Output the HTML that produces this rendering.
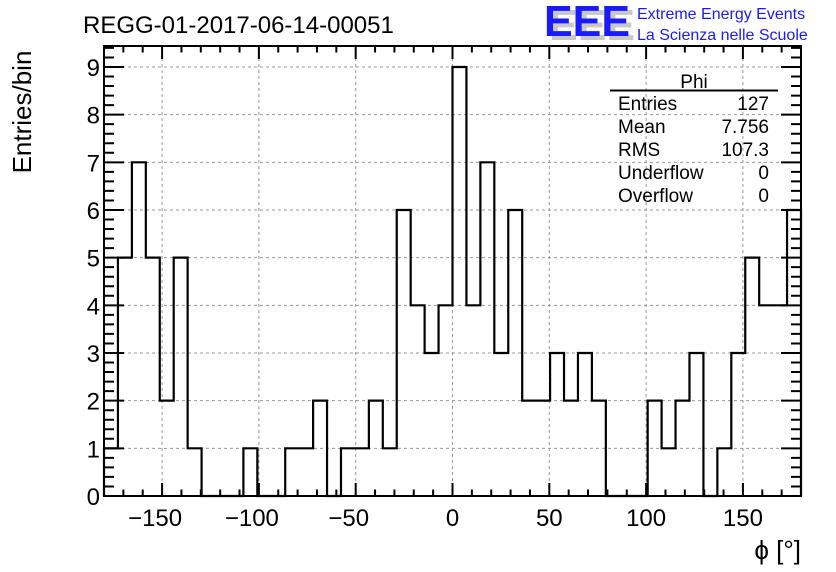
<!DOCTYPE html>
<html><head><meta charset="utf-8"><style>
html,body{margin:0;padding:0;background:#fff;}
svg{display:block;font-family:"Liberation Sans",Arial,sans-serif;}
</style></head><body>
<svg id="chart" width="836" height="572" viewBox="0 0 836 572">
<rect width="836" height="572" fill="#fff"/>
<text x="83" y="33" font-size="24" fill="#000">REGG-01-2017-06-14-00051</text>
<g>
<text x="549" y="40" font-size="44" font-weight="bold" fill="#c8c8c8" textLength="86" lengthAdjust="spacingAndGlyphs">EEE</text>
<text x="544" y="36" font-size="44" font-weight="bold" fill="#1a1aff" textLength="86" lengthAdjust="spacingAndGlyphs">EEE</text>
<text x="637" y="19" font-size="16" fill="#1a1aff">Extreme Energy Events</text>
<text x="637" y="40" font-size="16" fill="#1a1aff">La Scienza nelle Scuole</text>
</g>
<g id="grid"></g>
<path id="hist" fill="none" stroke="#000" stroke-width="2.2"/>
<g id="axes"></g>
<rect x="104" y="46" width="697" height="450" fill="none" stroke="#000" stroke-width="2"/>
<text transform="translate(31,112) rotate(-90)" text-anchor="middle" font-size="26">Entries/bin</text>
<text x="801" y="559" text-anchor="end" font-size="26">ϕ [°]</text>
<g font-size="19">
<text x="694" y="88" text-anchor="middle">Phi</text>
<line x1="610" y1="90.5" x2="778" y2="90.5" stroke="#000" stroke-width="2"/>
<text x="618" y="110">Entries</text><text x="769" y="110" text-anchor="end">127</text>
<text x="618" y="133">Mean</text><text x="769" y="133" text-anchor="end">7.756</text>
<text x="618" y="156">RMS</text><text x="769" y="156" text-anchor="end">107.3</text>
<text x="618" y="179">Underflow</text><text x="769" y="179" text-anchor="end">0</text>
<text x="618" y="202">Overflow</text><text x="769" y="202" text-anchor="end">0</text>
</g>
</svg>
<script>
const counts = [1,5,7,5,2,5,1,0,0,0,1,0,0,1,1,2,0,1,1,2,1,6,4,3,4,
                9,4,7,3,6,2,2,3,2,3,2,0,0,0,2,1,2,3,0,1,3,5,4,4,6];
const xMin = -180, xMax = 180, yMax = 9.44;
const xTickLabels = [-150,-100,-50,0,50,100,150];
const yTickLabels = [0,1,2,3,4,5,6,7,8,9];
const L=104,R=801,T=46,B=496;
const NS='http://www.w3.org/2000/svg';
function xs(v){return L+(v-xMin)/(xMax-xMin)*(R-L);}
function ys(v){return B-v/yMax*(B-T);}
function mk(parent,tag,attrs){const e=document.createElementNS(NS,tag);for(const k in attrs)e.setAttribute(k,attrs[k]);parent.appendChild(e);return e;}
const grid=document.getElementById('grid'), axes=document.getElementById('axes');
xTickLabels.forEach(v=>{
  const l=mk(grid,'line',{x1:xs(v),x2:xs(v),y1:T,y2:B,stroke:'#999','stroke-dasharray':'3,3','stroke-width':1});
  
  
  const t=mk(axes,'text',{x:xs(v)-(v<0?7:0),y:526,'text-anchor':'middle','font-size':24});
  t.textContent=(v<0?'\u2212'+(-v):String(v));
  
  
});
yTickLabels.forEach(v=>{
  if(v>0){const l=mk(grid,'line',{x1:L,x2:R,y1:ys(v),y2:ys(v),stroke:'#999','stroke-dasharray':'3,3','stroke-width':1});
  
  }
  const t=mk(axes,'text',{x:100,y:ys(v)+9,'text-anchor':'end','font-size':24});
  t.textContent=String(v);
  
  
});
let tk='';
for(let v=-180;v<=180;v+=10){const x=xs(v);const len=(v%50===0)?13:6.5;tk+=`M${x},${B}V${B-len}M${x},${T}V${T+len}`;}
for(let v=0;v<=yMax;v+=0.2){const y=ys(v);const len=(Math.abs(v-Math.round(v))<1e-6)?20:10;tk+=`M${L},${y}H${L+len}M${R},${y}H${R-len}`;}
const tp=mk(axes,'path',{d:tk,stroke:'#000','stroke-width':2,fill:'none'});


const bw=(xMax-xMin)/counts.length;
let d=`M${xs(xMin)},${ys(0)}`;
counts.forEach((c,i)=>{d+=`V${ys(c)}H${xs(xMin+(i+1)*bw)}`;});
d+=`V${ys(0)}`;
document.getElementById('hist').setAttribute('d',d);
</script>
</body></html>
